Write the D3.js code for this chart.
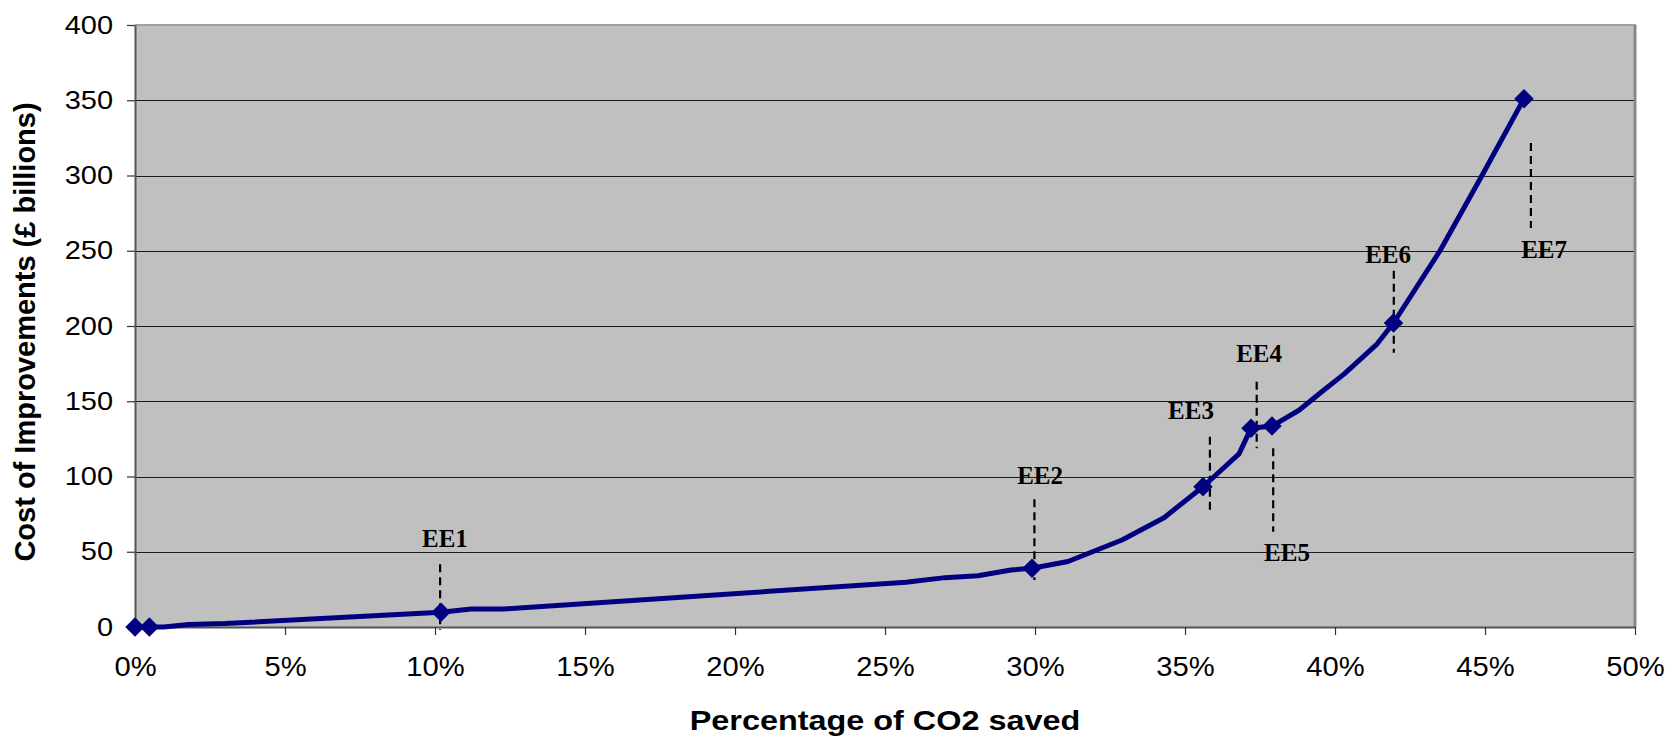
<!DOCTYPE html>
<html>
<head>
<meta charset="utf-8">
<script src="https://cdn.jsdelivr.net/npm/d3@7"></script>
<style>
  body { margin: 0; background: #fff; }
  svg { display: block; }
</style>
</head>
<body>
<svg id="chart" width="1671" height="743"></svg>
<script>
// Cumulative cost of improvements against share of CO2 saved
const savedPct = [0, 0.48, 0.95, 1.8, 3.0, 10.2, 11.2, 12.3, 25.7, 27.0, 28.1, 29.2, 29.9, 31.1, 32.9, 34.3,
                  35.6, 36.8, 37.2, 37.9, 38.8, 39.6, 40.3, 41.4, 41.95, 43.5, 44.9, 46.3];
const costBn   = [0, 0, 0, 1.6, 2.3, 9.8, 12, 12, 29.7, 32.8, 34, 37.9, 39, 43.5, 57.8, 72.6,
                  93.2, 115, 132, 133.5, 144, 157, 168, 188, 202, 250, 300, 351];
// indices of the points that carry a diamond marker
const markedPoints = [0, 1, 5, 12, 16, 18, 19, 24, 27];

// scenario call-outs (EE1..EE7): dashed leader and label, in axis units
const eeLabels      = ["EE1", "EE2", "EE3", "EE4", "EE5", "EE6", "EE7"];
const eeLeaderX     = [10.17, 29.98, 35.83, 37.39, 37.94, 41.96, 46.53];
const eeLeaderTop   = [41.7, 84.9, 126.4, 163, 118.7, 236.7, 321.6];
const eeLeaderBase  = [-2, 31.2, 75.9, 118.7, 63.3, 182.3, 265.1];
const eeLabelX      = [10.33, 30.17, 35.2, 37.47, 38.4, 41.77, 46.97];
const eeLabelY      = [53.4, 94.8, 138.2, 175.9, 43.9, 241.7, 245.2];

const xTicks = [0, 5, 10, 15, 20, 25, 30, 35, 40, 45, 50];
const yTicks = [0, 50, 100, 150, 200, 250, 300, 350, 400];

const xTitle = "Percentage of CO2 saved";
const yTitle = "Cost of Improvements (£ billions)";

const svg = d3.select("#chart");
const plot = { left: 135, right: 1635, top: 25, bottom: 627 };

const x = d3.scaleLinear().domain([0, 50]).range([plot.left, plot.right]);
const y = d3.scaleLinear().domain([0, 400]).range([plot.bottom, plot.top]);

// widen glyphs horizontally about their anchor point
function stretch(sel, s) {
  sel.each(function () {
    const t = d3.select(this);
    const ax = +(t.attr("x") || 0);
    t.attr("transform", `translate(${ax},0) scale(${s},1) translate(${-ax},0)`);
  });
}

// plot area
svg.append("rect")
  .attr("x", plot.left).attr("y", plot.top)
  .attr("width", plot.right - plot.left).attr("height", plot.bottom - plot.top)
  .attr("fill", "#c0c0c0");

// horizontal gridlines
svg.append("g")
  .selectAll("line")
  .data(yTicks.filter(v => v > 0 && v < 400))
  .join("line")
  .attr("x1", plot.left).attr("x2", plot.right)
  .attr("y1", d => Math.round(y(d)) + 0.5).attr("y2", d => Math.round(y(d)) + 0.5)
  .attr("stroke", "#1a1a1a").attr("stroke-width", 1);

// plot border (top / right)
svg.append("line")
  .attr("x1", plot.left).attr("x2", plot.right + 1)
  .attr("y1", plot.top).attr("y2", plot.top)
  .attr("stroke", "#a0a0a0").attr("stroke-width", 2);
svg.append("line")
  .attr("x1", plot.right).attr("x2", plot.right)
  .attr("y1", plot.top).attr("y2", plot.bottom)
  .attr("stroke", "#888888").attr("stroke-width", 3);

// axes
const yAxis = svg.append("g")
  .attr("transform", `translate(${plot.left},0)`)
  .call(d3.axisLeft(y).tickValues(yTicks).tickSize(8).tickPadding(14).tickSizeOuter(0));
const xAxis = svg.append("g")
  .attr("transform", `translate(0,${plot.bottom})`)
  .call(d3.axisBottom(x).tickValues(xTicks).tickFormat(d => d + "%").tickSize(8).tickPadding(22).tickSizeOuter(0));

[yAxis, xAxis].forEach(g => {
  g.select(".domain").attr("stroke", "#555").attr("stroke-width", 2);
  g.selectAll(".tick line").attr("stroke", "#333").attr("stroke-width", 1.2);
  g.selectAll(".tick text")
    .attr("fill", "#000")
    .attr("font-family", "'Liberation Sans', Arial, sans-serif");
});
yAxis.selectAll(".tick text").attr("font-size", 25).call(stretch, 1.16);
xAxis.selectAll(".tick text").attr("font-size", 27).call(stretch, 1.08);

// leaders and labels
const ann = eeLabels.map((t, i) => ({ t, lx: eeLeaderX[i], top: eeLeaderTop[i], base: eeLeaderBase[i], tx: eeLabelX[i], ty: eeLabelY[i] }));
svg.append("g")
  .selectAll("line")
  .data(ann)
  .join("line")
  .attr("x1", d => x(d.lx)).attr("x2", d => x(d.lx))
  .attr("y1", d => y(d.top)).attr("y2", d => y(d.base))
  .attr("stroke", "#000").attr("stroke-width", 2.2)
  .attr("stroke-dasharray", "8,5");

// cost curve
const pts = savedPct.map((p, i) => [p, costBn[i]]);
svg.append("path")
  .datum(pts)
  .attr("fill", "none")
  .attr("stroke", "#000080")
  .attr("stroke-width", 5)
  .attr("stroke-linejoin", "round")
  .attr("stroke-linecap", "round")
  .attr("d", d3.line().x(d => x(d[0])).y(d => y(d[1])));

// diamond markers
svg.append("g")
  .selectAll("path")
  .data(markedPoints.map(i => pts[i]))
  .join("path")
  .attr("transform", d => `translate(${x(d[0])},${y(d[1])}) rotate(45)`)
  .attr("d", d3.symbol(d3.symbolSquare, 190)())
  .attr("fill", "#000080");

svg.append("g")
  .selectAll("text")
  .data(ann)
  .join("text")
  .attr("x", d => x(d.tx)).attr("y", d => y(d.ty))
  .attr("text-anchor", "middle")
  .attr("font-family", "'Liberation Serif', 'Times New Roman', serif")
  .attr("font-weight", "bold")
  .attr("font-size", 25)
  .attr("fill", "#000")
  .text(d => d.t);

// axis titles
svg.append("text")
  .attr("x", (plot.left + plot.right) / 2).attr("y", 730)
  .attr("text-anchor", "middle")
  .attr("font-family", "'Liberation Sans', Arial, sans-serif")
  .attr("font-weight", "bold").attr("font-size", 27)
  .text(xTitle)
  .call(stretch, 1.2);
svg.append("text")
  .attr("transform", `translate(35,332) rotate(-90)`)
  .attr("text-anchor", "middle")
  .attr("font-family", "'Liberation Sans', Arial, sans-serif")
  .attr("font-weight", "bold").attr("font-size", 29)
  .text(yTitle);
</script>
</body>
</html>
